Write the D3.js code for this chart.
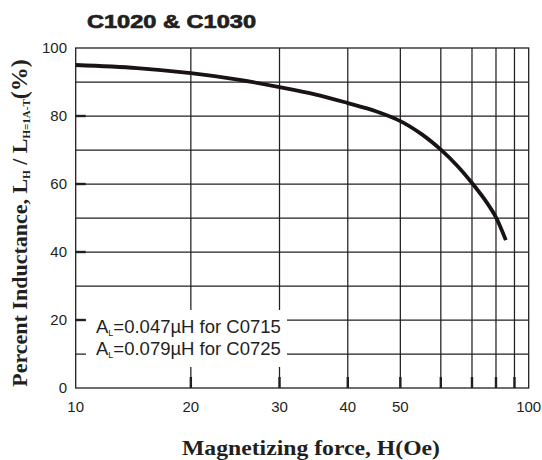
<!DOCTYPE html>
<html>
<head>
<meta charset="utf-8">
<script src="https://cdn.jsdelivr.net/npm/d3@7"></script>
<style>
  html, body { margin: 0; padding: 0; background: #fff; }
  svg { display: block; }
</style>
</head>
<body>
<div id="chart"></div>
<script>
// ---- data ----
const title = "C1020 & C1030";
const xValues = [10, 15, 20, 25, 30, 35, 40, 45, 50, 55, 60, 65, 70, 75, 80, 85];
const yValues = [95.0, 94.1, 92.6, 90.7, 88.5, 86.3, 83.8, 81.4, 78.5, 74.6, 70.1, 65.3, 60.3, 55.4, 50.2, 43.5];
const xGridValues = [20, 30, 40, 50, 60, 70, 80, 90];
const xTickLabels = [10, 20, 30, 40, 50, 100];
const yGridValues = [10, 20, 30, 40, 50, 60, 70, 80, 90];
const yTickLabels = [0, 20, 40, 60, 80, 100];
const annotationLines = [
  { pre: "A", sub: "L", post: "=0.047\u00B5H for C0715" },
  { pre: "A", sub: "L", post: "=0.079\u00B5H for C0725" }
];

// ---- layout ----
const W = 542, H = 460;
const m = { left: 75.7, right: 528.7, top: 48, bottom: 388 };
const sans = "'Liberation Sans', Arial, Helvetica, sans-serif";
const serif = "'Liberation Serif', 'Times New Roman', serif";
const ink = "#231f20";

const svg = d3.select("#chart").append("svg")
  .attr("width", W).attr("height", H);

// x axis of the original paper: compressing scale (exponential transform)
const warp = v => Math.pow(0.77, v / 10);
const xLin = d3.scaleLinear().domain([warp(10), warp(100)]).range([m.left, m.right]);
const x = v => xLin(warp(v));
const y = d3.scaleLinear().domain([0, 100]).range([m.bottom, m.top]);

// grid
const g = svg.append("g");
g.selectAll(".hg").data(yGridValues).join("line")
  .attr("x1", m.left).attr("x2", m.right)
  .attr("y1", d => y(d)).attr("y2", d => y(d))
  .attr("stroke", ink).attr("stroke-width", 1.25);
g.selectAll(".vg").data(xGridValues).join("line")
  .attr("x1", d => x(d)).attr("x2", d => x(d))
  .attr("y1", m.top).attr("y2", m.bottom)
  .attr("stroke", ink).attr("stroke-width", 1.25);

// frame
svg.append("rect")
  .attr("x", m.left).attr("y", m.top)
  .attr("width", m.right - m.left).attr("height", m.bottom - m.top)
  .attr("fill", "none").attr("stroke", ink).attr("stroke-width", 1.3);

// heavy inner ticks
svg.selectAll(".xt").data(xGridValues).join("line")
  .attr("x1", d => x(d)).attr("x2", d => x(d))
  .attr("y1", m.bottom - 11).attr("y2", m.bottom)
  .attr("stroke", ink).attr("stroke-width", 2.4);
svg.selectAll(".yt").data(yTickLabels.filter(d => d > 0 && d < 100)).join("line")
  .attr("x1", m.left).attr("x2", m.left + 10)
  .attr("y1", d => y(d)).attr("y2", d => y(d))
  .attr("stroke", ink).attr("stroke-width", 2.4);

// annotation box (white knock-out) and text
svg.append("rect")
  .attr("x", 86).attr("y", 310).attr("width", 201).attr("height", 57)
  .attr("fill", "#fff");
const ann = svg.selectAll(".ann").data(annotationLines).join("text")
  .attr("x", 96).attr("y", (d, i) => 333 + i * 21.5)
  .attr("font-family", sans).attr("font-size", 18.5).attr("fill", ink);
ann.append("tspan").text(d => d.pre);
ann.append("tspan").attr("font-size", 9).attr("dy", 3).text(d => d.sub);
ann.append("tspan").attr("dy", -3).text(d => d.post);

// curve
const line = d3.line()
  .x((d, i) => x(xValues[i]))
  .y(d => y(d))
  .curve(d3.curveCatmullRom.alpha(0.5));
svg.append("path")
  .attr("d", line(yValues))
  .attr("fill", "none").attr("stroke", "#1a1314").attr("stroke-width", 3.8);

// tick labels
svg.selectAll(".yl").data(yTickLabels).join("text")
  .attr("x", 67).attr("y", d => y(d)).attr("dy", "0.36em")
  .attr("text-anchor", "end")
  .attr("font-family", sans).attr("font-size", 15).attr("fill", ink)
  .text(d => d);
svg.selectAll(".xl").data(xTickLabels).join("text")
  .attr("x", d => x(d)).attr("y", 412)
  .attr("text-anchor", "middle")
  .attr("font-family", sans).attr("font-size", 15).attr("fill", ink)
  .text(d => d);

// title
svg.append("text")
  .attr("x", 87).attr("y", 28)
  .attr("font-family", sans).attr("font-weight", "bold").attr("font-size", 19)
  .attr("textLength", 169).attr("lengthAdjust", "spacingAndGlyphs")
  .attr("fill", ink).attr("stroke", ink).attr("stroke-width", 0.7)
  .text(title);

// x axis title
svg.append("text")
  .attr("x", 311).attr("y", 455)
  .attr("text-anchor", "middle")
  .attr("font-family", serif).attr("font-weight", "bold").attr("font-size", 22)
  .attr("textLength", 258).attr("lengthAdjust", "spacingAndGlyphs")
  .attr("fill", ink)
  .text("Magnetizing force, H(Oe)");

// y axis title
const yt = svg.append("text")
  .attr("transform", "translate(27,223) rotate(-90)")
  .attr("text-anchor", "middle")
  .attr("font-family", serif).attr("font-weight", "bold").attr("font-size", 22)
  .attr("fill", ink);
yt.append("tspan").text("Percent Inductance, L");
yt.append("tspan").attr("font-size", 11).attr("dy", 3).text("H");
yt.append("tspan").attr("dy", -3).text(" / L");
yt.append("tspan").attr("font-size", 11).attr("dy", 3).text("H=1A-T");
yt.append("tspan").attr("dy", -3).attr("font-size", 24).text("(%)");
</script>
</body>
</html>
